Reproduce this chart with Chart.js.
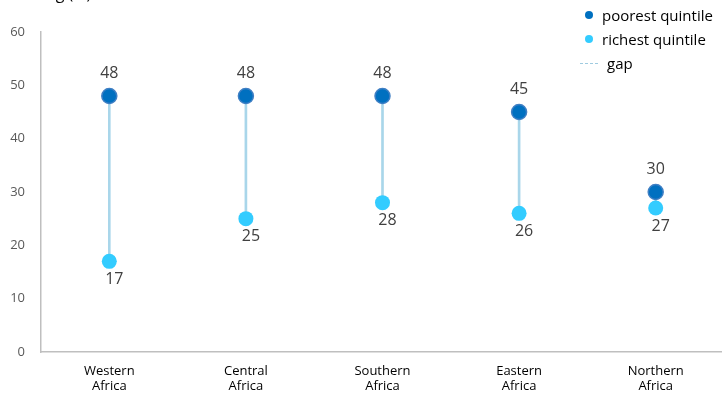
<!DOCTYPE html>
<html>
<head>
<meta charset="utf-8">
<script src="https://cdn.jsdelivr.net/npm/chart.js@4/dist/chart.umd.min.js"></script>
<style>
  html, body { margin: 0; padding: 0; background: #fff; }
  #wrap { position: relative; width: 722px; height: 397px; overflow: hidden; }
  #legend {
    position: absolute; left: 585px; top: 3px;
    font-family: "Open Sans", sans-serif; font-size: 15px; color: #000;
    line-height: 24px;
  }
  #legend .row { display: flex; align-items: center; white-space: nowrap; }
  #legend .dot { width: 8px; height: 8px; border-radius: 50%; margin-right: 9px; }
  #legend .dash { width: 18px; border-top: 1px dashed #9fcbe0; margin: 0 9px 0 -5px; }
</style>
</head>
<body>
<div id="wrap">
  <canvas id="c" width="733" height="397"></canvas>
  <div id="legend"></div>
</div>
<script>
const regions = [["Western", "Africa"], ["Central", "Africa"], ["Southern", "Africa"], ["Eastern", "Africa"], ["Northern", "Africa"]];
const poorest = [48, 48, 48, 45, 30];
const richest = [17, 25, 28, 26, 27];
const yTicks = [0, 10, 20, 30, 40, 50, 60];

const POOR = "#0070c0";
const RICH = "#33ccff";
const GAP = "#a9d6ea";
const TEXT = "#404040";

// label each point with its value: poorest above, richest below
const valueLabels = {
  id: "valueLabels",
  afterDatasetsDraw(chart) {
    const { ctx } = chart;
    ctx.save();
    ctx.font = "16px 'Open Sans', sans-serif";
    ctx.fillStyle = TEXT;
    ctx.textAlign = "center";
    ctx.textBaseline = "middle";
    chart.getDatasetMeta(1).data.forEach((pt, i) => {
      ctx.fillText(String(poorest[i]), pt.x, pt.y - 23);
    });
    chart.getDatasetMeta(2).data.forEach((pt, i) => {
      ctx.fillText(String(richest[i]), pt.x + 5, pt.y + 18);
    });
    // axis title, mostly above the top edge
    ctx.textAlign = "left";
    ctx.textBaseline = "alphabetic";
    ctx.fillStyle = "#000";
    ctx.fillText("Stunting (%)", 2, -1);
    ctx.restore();
  }
};

new Chart(document.getElementById("c"), {
  data: {
    labels: regions,
    datasets: [
      {
        type: "bar",
        label: "gap",
        data: poorest.map((p, i) => [richest[i], p]),
        backgroundColor: GAP,
        barThickness: 2,
        order: 3
      },
      {
        type: "line",
        label: "poorest quintile",
        data: poorest,
        showLine: false,
        pointRadius: 7.5,
        pointBackgroundColor: POOR,
        pointBorderColor: "#3f7fc4",
        pointBorderWidth: 1.5,
        order: 1
      },
      {
        type: "line",
        label: "richest quintile",
        data: richest,
        showLine: false,
        pointRadius: 7.5,
        pointBackgroundColor: RICH,
        pointBorderColor: RICH,
        pointBorderWidth: 0,
        order: 2
      }
    ]
  },
  options: {
    responsive: false,
    animation: false,
    layout: { padding: { top: 32, right: 0, left: 0, bottom: 0 } },
    plugins: { legend: { display: false }, tooltip: { enabled: false } },
    scales: {
      x: {
        offset: true,
        grid: { display: false, drawTicks: false },
        border: { color: "#bfbfbf", width: 1.5 },
        afterFit: (axis) => { axis.height = 45; },
        ticks: {
          color: "#000",
          font: { family: "'Open Sans', sans-serif", size: 13 },
          padding: 11,
          maxRotation: 0
        }
      },
      y: {
        min: 0,
        max: 60,
        grid: { display: false, drawTicks: false },
        border: { color: "#bfbfbf", width: 1.5 },
        afterBuildTicks: (axis) => { axis.ticks = yTicks.map((v) => ({ value: v })); },
        afterFit: (axis) => { axis.width = 41; },
        ticks: {
          color: "#595959",
          font: { family: "'Open Sans', sans-serif", size: 13 },
          padding: 16
        }
      }
    }
  },
  plugins: [valueLabels]
});

// vertical legend in the top-right corner
const legend = document.getElementById("legend");
[["poorest quintile", POOR, "dot"], ["richest quintile", RICH, "dot"], ["gap", GAP, "dash"]].forEach(([name, color, kind]) => {
  const row = document.createElement("div");
  row.className = "row";
  const mark = document.createElement("span");
  mark.className = kind;
  if (kind === "dot") mark.style.background = color;
  row.appendChild(mark);
  row.appendChild(document.createTextNode(name));
  legend.appendChild(row);
});
</script>
</body>
</html>
